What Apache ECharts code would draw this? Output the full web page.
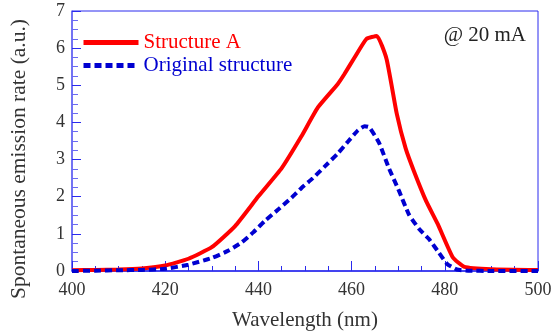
<!DOCTYPE html>
<html>
<head>
<meta charset="utf-8">
<script src="https://cdn.jsdelivr.net/npm/echarts@6/dist/echarts.min.js"></script>
<style>
  html, body { margin: 0; padding: 0; background: #fff; }
  #chart { width: 555px; height: 336px; }
</style>
</head>
<body>
<div id="chart"></div>
<script>
// values
var wlA = [400, 405, 410, 415, 420, 425, 430, 435, 440, 445, 449.2, 452.8, 457, 458.4, 460.6, 463.2, 465.4, 467.5, 469.7, 471.6, 473.4, 476, 478.5, 481.7, 484.2, 490, 500];
var rateA = [0.02, 0.03, 0.04, 0.07, 0.15, 0.33, 0.64, 1.21, 2.01, 2.77, 3.62, 4.41, 5.03, 5.29, 5.74, 6.25, 6.33, 5.71, 4.23, 3.3, 2.68, 1.88, 1.26, 0.37, 0.11, 0.05, 0.03];

var wlOrig = [400, 405, 410, 415, 420, 425, 430, 433.6, 436.4, 438.9, 441.4, 444.3, 447.1, 449.2, 451.7, 454.2, 457, 459.2, 461.3, 462.8, 463.8, 465.9, 468, 470.2, 472.3, 474.5, 476.6, 478.7, 480.5, 482.6, 485, 490, 500];
var rateOrig = [0.0, 0.01, 0.02, 0.03, 0.06, 0.17, 0.35, 0.55, 0.77, 1.04, 1.35, 1.66, 1.97, 2.23, 2.5, 2.81, 3.16, 3.48, 3.78, 3.9, 3.87, 3.45, 2.77, 2.15, 1.52, 1.13, 0.86, 0.5, 0.19, 0.04, 0.01, 0.0, 0.0];

var seriesNames = ['Structure A', 'Original structure'];

function pairs(xs, ys) {
  return xs.map(function (x, i) { return [x, ys[i]]; });
}

var serif = "'Liberation Serif', 'Times New Roman', serif";
var axisBlue = '#2a2aee';

var chart = echarts.init(document.getElementById('chart'));
chart.setOption({
  animation: false,
  textStyle: { fontFamily: serif },
  title: {
    text: '@ 20 mA',
    right: 24,
    top: 20,
    textStyle: { fontFamily: serif, fontSize: 21, fontWeight: 'normal', color: '#222' }
  },
  legend: {
    orient: 'vertical',
    left: 76,
    top: 27,
    itemWidth: 55,
    itemHeight: 12,
    itemGap: 2,
    itemStyle: { opacity: 0 },
    lineStyle: { width: 5 },
    data: [
      { name: seriesNames[0], textStyle: { color: '#ff0000' } },
      { name: seriesNames[1], textStyle: { color: '#0000d0' } }
    ],
    textStyle: { fontFamily: serif, fontSize: 21 }
  },
  grid: {
    left: 70, right: 17, top: 11, bottom: 62,
    show: true, borderColor: axisBlue, borderWidth: 1
  },
  xAxis: {
    type: 'value',
    min: 400, max: 500, interval: 20,
    name: 'Wavelength (nm)',
    nameLocation: 'middle',
    nameGap: 39,
    nameTextStyle: { fontFamily: serif, fontSize: 21, color: '#333' },
    axisLine: { lineStyle: { color: axisBlue, width: 1.5 } },
    axisTick: { inside: true, length: 10, lineStyle: { color: axisBlue } },
    minorTick: { show: true, splitNumber: 4, length: 5, lineStyle: { color: axisBlue } },
    axisLabel: { fontFamily: serif, fontSize: 18, color: '#333', margin: 10 },
    splitLine: { show: false }
  },
  yAxis: {
    type: 'value',
    min: 0, max: 7, interval: 1,
    name: 'Spontaneous emission rate (a.u.)',
    nameLocation: 'middle',
    nameGap: 42,
    nameTextStyle: { fontFamily: serif, fontSize: 21.5, color: '#333', padding: [0, 36, 0, 0] },
    axisLine: { lineStyle: { color: '#6a6af2', width: 1.5 } },
    axisTick: { inside: true, length: 9, lineStyle: { color: axisBlue } },
    minorTick: { show: true, splitNumber: 4, length: 6, lineStyle: { color: '#6a6af2' } },
    axisLabel: { fontFamily: serif, fontSize: 18, color: '#333', margin: 7 },
    splitLine: { show: false }
  },
  series: [
    {
      name: seriesNames[0],
      type: 'line',
      data: pairs(wlA, rateA),
      symbol: 'none',
      smooth: 0.15,
      lineStyle: { color: '#ff0000', width: 4 },
      itemStyle: { color: '#ff0000' }
    },
    {
      name: seriesNames[1],
      type: 'line',
      data: pairs(wlOrig, rateOrig),
      symbol: 'none',
      smooth: 0.15,
      lineStyle: { color: '#0000d0', width: 4, type: [7, 4] },
      itemStyle: { color: '#0000d0' }
    }
  ]
});
</script>
</body>
</html>
